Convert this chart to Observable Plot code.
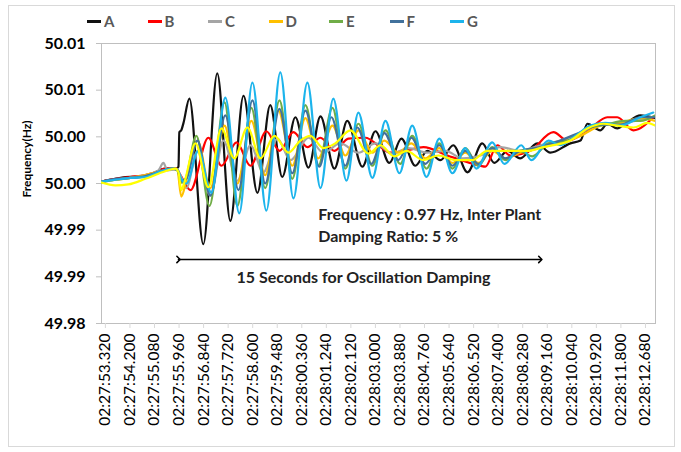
<!DOCTYPE html>
<html><head><meta charset="utf-8">
<script src="https://cdn.jsdelivr.net/npm/d3@7"></script>
<script src="https://cdn.jsdelivr.net/npm/@observablehq/plot@0.6"></script>
<style>
body{margin:0;background:#fff;font-family:Lato,sans-serif;}
#wrap{position:relative;width:681px;height:452px;overflow:hidden;}
#frame{position:absolute;left:8px;top:5px;width:667px;height:442px;border:1px solid #d9d9d9;box-sizing:border-box;}
#legend{position:absolute;top:12px;left:87px;display:flex;font-weight:700;font-size:15px;color:#595959;}
#legend .it{width:60.5px;display:flex;align-items:center;}
#legend .sw{width:14px;height:3px;margin-right:3px;}
#chart{position:absolute;left:0;top:0;}
</style></head>
<body>
<div id="wrap"><div id="frame"></div><div id="chart"></div><div id="legend"></div></div>
<script>
const seriesNames = ["A","B","C","D","E","F","G","H"];
const seriesColors = ["#111111","#ff0000","#a5a5a5","#ffc000","#70ad47","#41719c","#1cb4ec","#ffff00"];
const legendNames = ["A","B","C","D","E","F","G"];

const yTickValues = [49.985, 49.99, 49.995, 50.0, 50.005, 50.01, 50.015];
const yTickLabels = ["49.98","49.99","49.99","50.00","50.00","50.01","50.01"];
const xTickLabels = ["02:27:53.320","02:27:54.200","02:27:55.080","02:27:55.960","02:27:56.840","02:27:57.720","02:27:58.600","02:27:59.480","02:28:00.360","02:28:01.240","02:28:02.120","02:28:03.000","02:28:03.880","02:28:04.760","02:28:05.640","02:28:06.520","02:28:07.400","02:28:08.280","02:28:09.160","02:28:10.040","02:28:10.920","02:28:11.800","02:28:12.680"];

// [seconds after 02:27:00, frequency Hz]
const seriesA = [[53.18,50.0002],[53.68,50.0005],[54.22,50.0007],[54.75,50.0007],[55.11,50.0012],[55.47,50.0016],[55.86,50.0016],[55.94,50.0018],[55.97,50.0055],[56.04,50.0057],[56.12,50.0065],[56.33,50.0091],[56.83,49.9935],[57.33,50.0118],[57.80,49.9960],[58.27,50.0094],[58.77,49.9990],[59.23,50.0084],[59.66,50.0007],[60.13,50.0071],[60.60,50.0017],[61.03,50.0072],[61.53,50.0016],[61.99,50.0067],[62.53,50.0018],[63.00,50.0056],[63.50,50.0022],[63.93,50.0048],[64.43,50.0019],[64.86,50.0035],[65.33,50.0025],[65.79,50.0041],[66.30,50.0012],[66.83,50.0043],[67.26,50.0022],[67.73,50.0035],[68.19,50.0027],[68.80,50.0043],[69.27,50.0033],[69.99,50.0043],[70.35,50.0046],[70.60,50.0064],[71.06,50.0057],[71.31,50.0064],[71.67,50.0059],[71.96,50.0064],[72.50,50.0073],[73.03,50.0070]];
const seriesB = [[53.18,50.0002],[53.68,50.0005],[54.22,50.0007],[54.75,50.0009],[55.11,50.0012],[55.47,50.0016],[55.86,50.0016],[56.01,50.0009],[56.37,49.9993],[57.01,50.0049],[57.48,50.0019],[58.02,50.0044],[58.52,50.0019],[59.09,50.0056],[59.56,50.0035],[60.06,50.0055],[60.56,50.0039],[61.03,50.0049],[61.53,50.0035],[62.03,50.0048],[62.64,50.0049],[63.18,50.0039],[63.54,50.0033],[64.07,50.0035],[64.72,50.0039],[65.58,50.0030],[66.51,50.0021],[66.94,50.0018],[67.37,50.0041],[67.84,50.0030],[68.55,50.0035],[69.38,50.0055],[69.88,50.0046],[70.70,50.0059],[71.31,50.0071],[71.67,50.0071],[72.25,50.0057],[72.96,50.0071]];
const seriesC = [[53.18,50.0002],[53.68,50.0004],[54.22,50.0006],[54.75,50.0009],[55.22,50.0014],[55.40,50.0022],[55.54,50.0014],[55.86,50.0015],[56.04,50.0007],[56.22,49.9995],[56.62,50.0035],[57.08,49.9987],[57.55,50.0046],[58.05,50.0003],[58.52,50.0041],[58.98,50.0012],[59.49,50.0048],[59.95,50.0025],[60.60,50.0049],[61.13,50.0033],[61.74,50.0043],[62.39,50.0033],[63.00,50.0043],[63.61,50.0032],[64.18,50.0038],[64.86,50.0033],[65.51,50.0035],[66.12,50.0027],[66.76,50.0030],[67.48,50.0039],[68.19,50.0035],[68.91,50.0041],[69.63,50.0046],[70.35,50.0054],[71.06,50.0064],[71.78,50.0065],[72.32,50.0067],[73.03,50.0072]];
const seriesD = [[53.18,50.0002],[53.68,50.0004],[54.22,50.0006],[54.75,50.0009],[55.29,50.0013],[55.72,50.0016],[55.90,50.0014],[56.04,49.9986],[56.22,50.0003],[56.62,50.0046],[57.08,49.9995],[57.59,50.0062],[58.05,50.0000],[58.55,50.0067],[59.05,50.0009],[59.52,50.0078],[60.02,50.0019],[60.49,50.0070],[60.95,50.0027],[61.46,50.0062],[61.92,50.0030],[62.39,50.0057],[62.89,50.0033],[63.32,50.0046],[63.82,50.0033],[64.29,50.0043],[64.79,50.0027],[65.29,50.0038],[65.76,50.0022],[66.22,50.0033],[66.69,50.0022],[67.19,50.0035],[67.66,50.0027],[68.19,50.0033],[68.91,50.0038],[69.63,50.0044],[70.35,50.0051],[71.06,50.0062],[71.78,50.0065],[72.50,50.0070],[73.03,50.0067]];
const seriesE = [[53.18,50.0001],[53.68,50.0004],[54.22,50.0006],[54.75,50.0007],[55.29,50.0013],[55.72,50.0016],[55.90,50.0014],[56.04,50.0001],[56.19,50.0005],[56.58,50.0051],[57.05,49.9976],[57.59,50.0087],[58.05,49.9976],[58.55,50.0081],[59.05,49.9995],[59.56,50.0089],[60.02,50.0005],[60.49,50.0084],[60.95,50.0019],[61.46,50.0081],[61.92,50.0016],[62.39,50.0064],[62.89,50.0019],[63.36,50.0057],[63.89,50.0021],[64.32,50.0051],[64.83,50.0016],[65.29,50.0043],[65.76,50.0016],[66.22,50.0038],[66.69,50.0019],[67.19,50.0039],[67.66,50.0025],[68.19,50.0035],[68.62,50.0029],[69.20,50.0043],[69.88,50.0046],[70.60,50.0059],[71.24,50.0063],[71.96,50.0067],[72.50,50.0067],[73.03,50.0073]];
const seriesF = [[53.18,50.0002],[53.68,50.0005],[54.22,50.0006],[54.75,50.0008],[55.29,50.0013],[55.72,50.0016],[55.90,50.0015],[56.04,50.0003],[56.22,50.0005],[56.62,50.0046],[57.08,49.9987],[57.62,50.0073],[58.09,49.9993],[58.59,50.0089],[59.05,50.0000],[59.56,50.0080],[60.02,50.0011],[60.49,50.0078],[60.99,50.0018],[61.42,50.0071],[61.92,50.0019],[62.35,50.0060],[62.85,50.0021],[63.32,50.0054],[63.82,50.0025],[64.29,50.0049],[64.79,50.0021],[65.29,50.0041],[65.76,50.0019],[66.22,50.0035],[66.69,50.0021],[67.19,50.0038],[67.66,50.0027],[68.19,50.0035],[68.91,50.0039],[69.63,50.0046],[70.35,50.0055],[71.06,50.0063],[71.78,50.0063],[72.50,50.0071],[73.03,50.0071]];
const seriesG = [[53.18,50.0002],[53.68,50.0004],[54.22,50.0006],[54.75,50.0007],[55.29,50.0013],[55.72,50.0016],[55.90,50.0015],[56.04,50.0005],[56.22,50.0000],[56.65,50.0035],[57.12,49.9990],[57.62,50.0092],[58.12,49.9968],[58.59,50.0108],[59.09,49.9971],[59.59,50.0119],[60.06,49.9984],[60.56,50.0108],[61.03,49.9995],[61.49,50.0091],[61.96,50.0003],[62.39,50.0076],[62.89,50.0006],[63.36,50.0067],[63.86,50.0011],[64.32,50.0062],[64.83,50.0007],[65.29,50.0048],[65.76,50.0011],[66.22,50.0038],[66.62,50.0016],[67.19,50.0044],[67.62,50.0021],[68.23,50.0041],[68.59,50.0025],[69.20,50.0046],[69.63,50.0041],[70.17,50.0051],[70.70,50.0062],[71.24,50.0065],[71.78,50.0062],[72.50,50.0071],[72.96,50.0076]];
const seriesH = [[53.18,50.0001],[53.68,49.9998],[54.14,49.9999],[54.75,50.0005],[55.36,50.0012],[55.83,50.0016],[55.94,50.0012],[56.04,49.9993],[56.15,50.0001],[56.55,50.0043],[57.01,49.9996],[57.48,50.0059],[57.94,50.0027],[58.41,50.0060],[58.88,50.0027],[59.38,50.0051],[59.88,50.0033],[60.31,50.0046],[60.67,50.0051],[61.13,50.0038],[61.56,50.0043],[62.10,50.0057],[62.75,50.0032],[63.18,50.0041],[63.68,50.0029],[64.11,50.0035],[64.72,50.0025],[65.26,50.0030],[65.86,50.0025],[66.47,50.0025],[67.01,50.0035],[67.84,50.0035],[68.45,50.0035],[69.02,50.0039],[69.99,50.0046],[70.60,50.0059],[71.17,50.0064],[71.67,50.0062],[72.25,50.0060],[72.75,50.0065],[73.03,50.0062]];

const noteLines = ["Frequency : 0.97 Hz, Inter Plant","Damping Ratio: 5 %"];
const noteTimes = [60.95, 60.95];
const noteValues = [49.99668, 49.99432];
const spanLabel = "15 Seconds for Oscillation Damping";
const spanTimes = [55.94, 68.91];
const spanValue = 49.99186;
const spanLabelTime = 62.57, spanLabelValue = 49.98993;

const allSeries = [seriesA, seriesB, seriesC, seriesD, seriesE, seriesF, seriesG, seriesH];
const rows = [];
allSeries.forEach((s, k) => s.forEach(([t, v]) => rows.push({s: seriesNames[k], t, v})));

function toSec(str){const [h,m,s]=str.split(":").map(Number);return h*3600+m*60+s-(2*3600+27*60);}
const xTicks = xTickLabels.map(toSec);

const chart = Plot.plot({
  width: 681, height: 452,
  marginLeft: 101, marginRight: 26, marginTop: 43, marginBottom: 129,
  style: {fontFamily: "Lato, sans-serif", background: "transparent", overflow: "visible"},
  x: {domain: [53.18, 73.04]},
  y: {domain: [49.985, 50.015]},
  color: {domain: seriesNames, range: seriesColors},
  marks: [
    Plot.frame({stroke: "#bfbfbf"}),
    Plot.axisY({ticks: yTickValues, tickFormat: d => yTickLabels[yTickValues.findIndex(v => Math.abs(v - d) < 1e-9)],
      tickSize: 5, tickPadding: 11, fontSize: 16, fontWeight: 700, stroke: "#bfbfbf", color: "#000", label: null}),
    Plot.axisX({ticks: xTicks, tickFormat: (d, i) => xTickLabels[i], tickRotate: -90,
      tickSize: 5, tickPadding: 5, fontSize: 15.5, stroke: "#d9d9d9", color: "#000", label: null}),
    Plot.text(["Frequency(Hz)"], {frameAnchor: "left", dx: -74, dy: 14, rotate: -90, fontSize: 12, fontWeight: 700, fill: "#000"}),
    Plot.line(rows, {x: "t", y: "v", z: "s", stroke: "s", strokeWidth: 2.2, curve: "monotone-x", clip: true}),
    Plot.text(noteLines, {x: (d, i) => noteTimes[i], y: (d, i) => noteValues[i], text: d => d, textAnchor: "start",
      fontSize: 16, fontWeight: 700, fill: "#222"}),
    Plot.line(spanTimes.map(t => [t, spanValue]), {strokeWidth: 1.6, stroke: "#000", markerStart: "arrow", markerEnd: "arrow"}),
    Plot.text([spanLabel], {x: () => spanLabelTime, y: () => spanLabelValue, text: d => d, fontSize: 16, fontWeight: 700, fill: "#222"})
  ]
});
document.getElementById("chart").appendChild(chart);

const lg = document.getElementById("legend");
legendNames.forEach((n, i) => {
  const it = document.createElement("div"); it.className = "it";
  const sw = document.createElement("div"); sw.className = "sw"; sw.style.background = seriesColors[i];
  const tx = document.createElement("span"); tx.textContent = n;
  it.appendChild(sw); it.appendChild(tx); lg.appendChild(it);
});
</script>
</body></html>
